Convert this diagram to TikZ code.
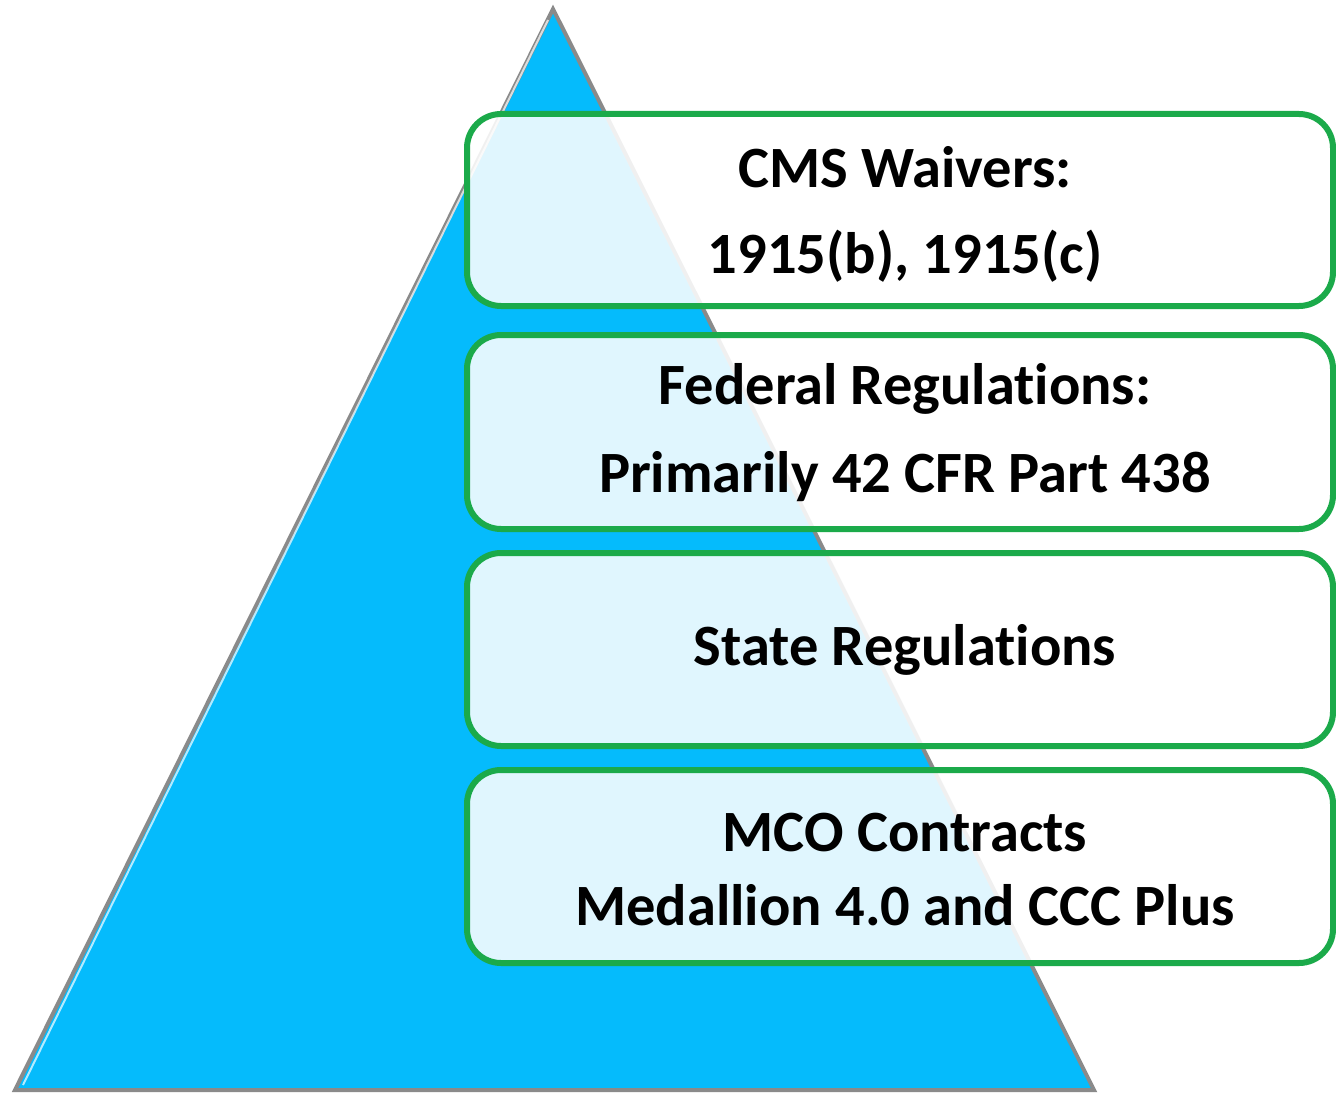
\documentclass[tikz,border=0pt]{standalone}
\usepackage{fontspec}
\setmainfont[RawFeature={-liga;-clig;-dlig;-calt}]{Carlito}
\definecolor{triblue}{HTML}{05BBFC}
\definecolor{boxgreen}{HTML}{1BAA4A}
\definecolor{triedge}{HTML}{8A8A8A}
\tikzset{
  tier/.style={draw=boxgreen, line width=6pt, rounded corners=34pt, fill=white, fill opacity=0.88, draw opacity=1},
  lbl/.style={font=\bfseries\fontsize{58.5}{66}\selectfont, text=black, align=center, inner sep=0pt}
}
\begin{document}
\begin{tikzpicture}[x=1pt,y=-1pt]
\useasboundingbox (0,0) rectangle (1336,1094);
\fill[white] (0,0) rectangle (1336,1094);
% pyramid
\draw[triedge, line width=4pt, fill=triblue, line join=miter] (553,9) -- (1094,1090) -- (15,1090) -- cycle;
\draw[white, line width=2pt, opacity=0.7] (548,20) -- (23,1085);
% boxes
\draw[tier] (467,114) rectangle (1333,306);
\draw[tier] (467,335) rectangle (1333,529);
\draw[tier] (467,553) rectangle (1333,746);
\draw[tier] (467,770) rectangle (1333,963);
% labels
\node[lbl] (t1a) at (905,167) {CMS Waivers:};
\node[lbl] (t1b) at (905,256) {1915(b), 1915(c)};
\node[lbl] (t2a) at (905,389) {Federal Regulations:};
\node[lbl] (t2b) at (905,477) {Primarily 42 CFR Part 438};
\node[lbl] (t3) at (905,650) {State Regulations};
\node[lbl] (t4a) at (905,833) {MCO Contracts};
\node[lbl] (t4b) at (905,905) {Medallion 4.0 and CCC Plus};
\end{tikzpicture}
\end{document}
